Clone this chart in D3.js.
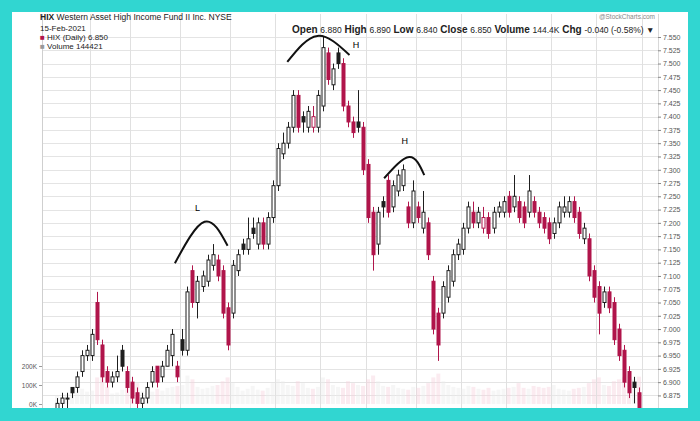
<!DOCTYPE html>
<html><head><meta charset="utf-8">
<script src="https://cdn.jsdelivr.net/npm/d3@7"></script>
<style>body{margin:0;background:#fff}svg{display:block;font-family:"Liberation Sans",Arial,sans-serif}</style>
</head><body><svg id="c" width="700" height="421"></svg>
<script>
const opens=[6.85,6.86,6.87,6.89,6.89,6.92,6.95,6.95,7.05,6.97,
6.92,6.90,6.91,6.96,6.92,6.90,6.88,6.86,6.87,6.90,
6.93,6.91,6.93,6.95,6.93,6.98,6.96,7.11,7.05,7.08,
7.09,7.12,7.13,7.11,7.04,7.03,7.11,7.16,7.15,7.19,
7.16,7.20,7.16,7.21,7.27,7.33,7.35,7.38,7.44,7.40,
7.38,7.38,7.38,7.42,7.52,7.46,7.52,7.50,7.42,7.39,
7.39,7.38,7.31,7.22,7.16,7.24,7.28,7.23,7.26,7.27,
7.23,7.20,7.23,7.19,7.20,7.09,7.03,7.03,7.06,7.09,
7.14,7.15,7.19,7.22,7.20,7.19,7.21,7.19,7.22,7.22,
7.25,7.23,7.24,7.23,7.22,7.24,7.22,7.21,7.20,7.18,
7.20,7.22,7.22,7.24,7.22,7.17,7.17,7.11,7.08,7.05,
7.07,7.05,7.00,6.96,6.92,6.90,6.88];
const highs=[6.87,6.88,6.88,6.89,6.92,6.96,6.97,7.00,7.07,6.98,
6.93,6.92,6.95,6.97,6.93,6.91,6.89,6.88,6.90,6.93,
6.93,6.94,6.97,7.00,6.94,7.00,7.08,7.12,7.10,7.11,
7.14,7.16,7.14,7.12,7.05,7.13,7.15,7.17,7.21,7.21,
7.21,7.21,7.22,7.28,7.35,7.37,7.39,7.45,7.45,7.41,
7.42,7.42,7.45,7.55,7.53,7.50,7.53,7.51,7.43,7.40,
7.45,7.39,7.32,7.23,7.23,7.25,7.29,7.28,7.30,7.31,
7.24,7.28,7.24,7.26,7.21,7.10,7.04,7.09,7.12,7.15,
7.17,7.20,7.24,7.24,7.23,7.23,7.22,7.23,7.24,7.25,
7.26,7.29,7.25,7.24,7.29,7.25,7.23,7.22,7.21,7.21,
7.24,7.25,7.25,7.25,7.23,7.20,7.18,7.12,7.09,7.08,
7.08,7.06,7.01,6.97,6.93,6.91,6.89];
const lows=[6.84,6.85,6.85,6.87,6.88,6.91,6.94,6.94,6.97,6.90,
6.89,6.89,6.90,6.92,6.88,6.86,6.85,6.85,6.86,6.89,
6.89,6.90,6.93,6.93,6.90,6.95,6.95,7.04,7.02,7.07,
7.08,7.11,7.09,7.02,6.96,7.02,7.10,7.14,7.14,7.17,
7.15,7.15,7.15,7.20,7.26,7.32,7.34,7.37,7.37,7.37,
7.37,7.37,7.37,7.41,7.46,7.45,7.49,7.41,7.38,7.36,
7.37,7.29,7.20,7.11,7.14,7.21,7.21,7.22,7.25,7.26,
7.19,7.19,7.20,7.18,7.13,6.99,6.94,7.02,7.05,7.08,
7.13,7.14,7.18,7.19,7.19,7.18,7.17,7.18,7.21,7.21,
7.21,7.22,7.20,7.19,7.21,7.21,7.19,7.18,7.16,7.17,
7.19,7.21,7.21,7.20,7.17,7.16,7.09,7.05,6.99,7.04,
7.03,6.97,6.94,6.89,6.87,6.86,6.84];
const closes=[6.86,6.87,6.87,6.88,6.91,6.95,6.96,6.99,6.98,6.91,
6.90,6.91,6.92,6.93,6.89,6.87,6.86,6.87,6.89,6.92,
6.90,6.93,6.96,6.99,6.91,6.96,7.07,7.05,7.09,7.10,
7.13,7.14,7.10,7.03,6.97,7.12,7.14,7.15,7.17,7.18,
7.20,7.16,7.21,7.27,7.34,7.35,7.38,7.44,7.38,7.39,
7.41,7.40,7.44,7.53,7.47,7.49,7.50,7.42,7.39,7.37,
7.38,7.30,7.21,7.14,7.22,7.23,7.22,7.27,7.29,7.30,
7.20,7.26,7.21,7.22,7.14,7.00,6.97,7.08,7.11,7.14,
7.16,7.19,7.23,7.20,7.22,7.21,7.18,7.22,7.23,7.24,
7.22,7.25,7.21,7.20,7.26,7.22,7.20,7.19,7.17,7.20,
7.23,7.23,7.24,7.21,7.18,7.19,7.10,7.06,7.03,7.07,
7.04,6.98,6.95,6.90,6.88,6.89,6.85];
const volumesK=[45,38,52,60,72,80,65,70,140,160,
90,55,60,75,85,95,110,70,60,65,
80,70,85,90,95,100,150,130,90,80,
85,95,100,120,140,110,90,70,80,95,
75,70,85,110,130,120,100,95,120,110,
85,80,90,140,130,100,90,85,120,110,
100,95,130,150,120,95,90,100,85,80,
75,90,85,95,110,140,160,120,100,90,
85,80,95,90,80,75,85,70,75,80,
85,90,110,85,80,95,90,85,90,100,
80,75,70,80,85,90,110,130,140,100,
95,120,130,140,150,130,144];
const priceTicks=[7.550,7.525,7.500,7.475,7.450,7.425,7.400,7.375,7.350,7.325,7.300,7.275,7.250,7.225,7.200,7.175,7.150,7.125,7.100,7.075,7.050,7.025,7.000,6.975,6.950,6.925,6.900,6.875];
const volumeTicks=[0,100,200];
const gridIdx=[6.5,14.5,24.5,34.5,43.5,52.5,61.5,71.5,80.5,89.5,98.5,107.5,116.5];
const annoLabels=["L","H","H"];
const annoStart=[[23.5,7.124],[45.9,7.503],[65.2,7.284]];
const annoPeak=[[29.4,7.202],[51.9,7.552],[70.2,7.324]];
const annoEnd=[[34.0,7.157],[58.3,7.516],[73.2,7.290]];
const annoText=[[28.0,7.222],[59.6,7.530],[69.3,7.348]];

const svg=d3.select("#c");
svg.append("rect").attr("width",700).attr("height",421).attr("fill","#31d6d1");
svg.append("rect").attr("x",12).attr("y",12).attr("width",676).attr("height",396).attr("fill","#fff");

const N=closes.length;
const x=d3.scaleLinear().domain([0,N-1]).range([57,639]);
const y=d3.scaleLinear().domain([6.85,7.55]).range([408.7,37]);
const yv=d3.scaleLinear().domain([0,200]).range([404,366]);
const L=42,R=658,T=14,B=408;

svg.append("defs").append("clipPath").attr("id","clp").append("rect").attr("x",L).attr("y",T).attr("width",R-L).attr("height",B-T);

const grid=svg.append("g");
grid.selectAll("line.h").data(priceTicks).join("line")
 .attr("x1",L).attr("x2",R).attr("y1",d=>Math.round(y(d))+0.5).attr("y2",d=>Math.round(y(d))+0.5)
 .attr("stroke","#e4e4e4").attr("stroke-width",1);
grid.selectAll("line.v").data(gridIdx).join("line")
 .attr("y1",T).attr("y2",B).attr("x1",d=>Math.round(x(d))+0.5).attr("x2",d=>Math.round(x(d))+0.5)
 .attr("stroke","#e0e0e0").attr("stroke-width",1);
svg.append("line").attr("x1",L+0.5).attr("x2",L+0.5).attr("y1",T).attr("y2",B).attr("stroke","#cfcfcf");
svg.append("line").attr("x1",R+0.5).attr("x2",R+0.5).attr("y1",T).attr("y2",B).attr("stroke","#d8d8d8");

const ax=svg.append("g").attr("transform",`translate(${R},0)`)
 .call(d3.axisRight(y).tickValues(priceTicks).tickFormat(d3.format(".3f")).tickSize(3).tickPadding(2));
ax.select(".domain").remove();
ax.selectAll("line").attr("stroke","#888");
ax.selectAll("text").attr("font-size",7).attr("fill","#555").attr("font-family","Liberation Sans, Arial, sans-serif");

const vax=svg.append("g").attr("transform",`translate(${L},0)`)
 .call(d3.axisLeft(yv).tickValues(volumeTicks).tickFormat(d=>d+"K").tickSize(3).tickPadding(2));
vax.select(".domain").remove();
vax.selectAll("line").attr("stroke","#999");
vax.selectAll("text").attr("font-size",6.5).attr("fill","#555").attr("font-family","Liberation Sans, Arial, sans-serif");

const plot=svg.append("g").attr("clip-path","url(#clp)");
const idx=d3.range(N);
plot.append("g").selectAll("rect").data(idx).join("rect")
 .attr("x",i=>x(i)-2).attr("width",4)
 .attr("y",i=>yv(volumesK[i])).attr("height",i=>yv(0)-yv(volumesK[i]))
 .attr("fill",i=>closes[i]<(i?closes[i-1]:opens[i])?"#f6d3de":"#ececec").attr("opacity",0.45);

const RED="#b0154b",BLK="#1e1e1e";
const col=i=>closes[i]<(i?closes[i-1]:opens[i])?RED:BLK;
const cg=plot.append("g").selectAll("g").data(idx).join("g");
cg.append("line").attr("x1",i=>Math.round(x(i))+0.5).attr("x2",i=>Math.round(x(i))+0.5)
 .attr("y1",i=>y(highs[i])).attr("y2",i=>y(lows[i])).attr("stroke",col).attr("stroke-width",1);
cg.append("rect").attr("x",i=>Math.round(x(i))-1).attr("width",3)
 .attr("y",i=>y(Math.max(opens[i],closes[i])))
 .attr("height",i=>Math.max(1,Math.abs(y(opens[i])-y(closes[i]))))
 .attr("fill",i=>closes[i]<opens[i]?col(i):"#fff")
 .attr("stroke",col).attr("stroke-width",1);

const curve=d3.line().x(d=>x(d[0])).y(d=>y(d[1])).curve(d3.curveNatural);
annoLabels.forEach((t,k)=>{
  svg.append("path").attr("d",curve([annoStart[k],annoPeak[k],annoEnd[k]]))
   .attr("fill","none").attr("stroke","#111").attr("stroke-width",2);
  svg.append("text").attr("x",x(annoText[k][0])).attr("y",y(annoText[k][1]))
   .attr("text-anchor","middle").attr("font-size",9).attr("fill","#000").text(t);
});

const last=N-1, chg=closes[last]-closes[last-1];
const hdr=svg.append("g").attr("font-size",8.5).attr("fill","#222");
const t1=hdr.append("text").attr("x",40).attr("y",20);
t1.append("tspan").attr("font-weight","bold").text("HIX ");
t1.append("tspan").text("Western Asset High Income Fund II Inc.  NYSE");
hdr.append("text").attr("x",40).attr("y",31).attr("font-size",8).text("15-Feb-2021");
const t3=hdr.append("text").attr("x",40).attr("y",40).attr("font-size",8);
t3.append("tspan").attr("fill","#b0154b").text("■");
t3.append("tspan").text(" HIX (Daily) "+closes[last].toFixed(3));
const t4=hdr.append("text").attr("x",40).attr("y",49).attr("font-size",8);
t4.append("tspan").attr("fill","#999").text("■");
t4.append("tspan").text(" Volume "+(volumesK[last]*1000+421));

const rt=svg.append("text").attr("x",292).attr("y",33).attr("font-size",10).attr("fill","#222");
const parts=[["Open",opens[last].toFixed(3)],["High",highs[last].toFixed(3)],["Low",lows[last].toFixed(3)],["Close",closes[last].toFixed(3)],["Volume",(volumesK[last]+0.4).toFixed(1)+"K"],["Chg",chg.toFixed(3)+" ("+(chg/closes[last-1]*100).toFixed(2)+"%) ▼"]];
parts.forEach(([a,b],k)=>{
  rt.append("tspan").attr("font-weight","bold").text((k?"  ":"")+a+" ");
  rt.append("tspan").attr("font-size",8.5).text(b);
});
svg.append("text").attr("x",655).attr("y",19).attr("text-anchor","end").attr("font-size",6.5).attr("fill","#888").text("@StockCharts.com");
</script></body></html>
